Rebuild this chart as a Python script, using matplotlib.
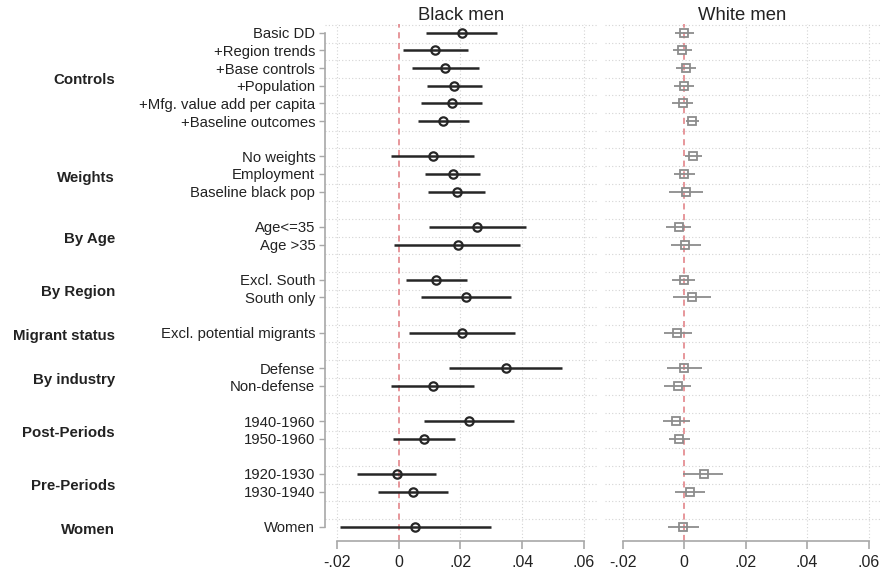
import matplotlib

matplotlib.use("Agg")
import matplotlib.pyplot as plt
import matplotlib.transforms as mtransforms

plt.rcParams.update({
    "font.family": ["Liberation Sans", "DejaVu Sans"],
    "font.size": 10,
})

# ---- data ----
groups = ["Controls", "Weights", "By Age", "By Region", "Migrant status",
          "By industry", "Post-Periods", "Pre-Periods", "Women"]
group_sizes = [6, 3, 2, 2, 1, 2, 2, 2, 1]

row_labels = [
    "Basic DD", "+Region trends", "+Base controls", "+Population",
    "+Mfg. value add per capita", "+Baseline outcomes",
    "No weights", "Employment", "Baseline black pop",
    "Age<=35", "Age >35",
    "Excl. South", "South only",
    "Excl. potential migrants",
    "Defense", "Non-defense",
    "1940-1960", "1950-1960",
    "1920-1930", "1930-1940",
    "Women",
]

black_est = [0.0204, 0.0119, 0.0150, 0.0180, 0.0172, 0.0145,
             0.0110, 0.0175, 0.0188,
             0.0255, 0.0191,
             0.0122, 0.0217,
             0.0205,
             0.0346, 0.0110,
             0.0228, 0.0083,
             -0.0006, 0.0048,
             0.0053]
black_lo = [0.0090, 0.0015, 0.0042, 0.0092, 0.0073, 0.0064,
            -0.0024, 0.0086, 0.0095,
            0.0098, -0.0015,
            0.0024, 0.0071,
            0.0033,
            0.0163, -0.0024,
            0.0081, -0.0019,
            -0.0135, -0.0067,
            -0.0191]
black_hi = [0.0318, 0.0226, 0.0261, 0.0271, 0.0269, 0.0227,
            0.0244, 0.0264, 0.0278,
            0.0411, 0.0394,
            0.0220, 0.0363,
            0.0376,
            0.0530, 0.0244,
            0.0374, 0.0184,
            0.0121, 0.0161,
            0.0299]

white_est = [0.0001, -0.0006, 0.0005, 0.0000, -0.0003, 0.0026,
             0.0030, 0.0001, 0.0006,
             -0.0017, 0.0004,
             -0.0001, 0.0027,
             -0.0022,
             0.0001, -0.0020,
             -0.0026, -0.0015,
             0.0064, 0.0018,
             -0.0002]
white_lo = [-0.0028, -0.0037, -0.0026, -0.0032, -0.0039, 0.0006,
            0.0003, -0.0032, -0.0048,
            -0.0058, -0.0044,
            -0.0039, -0.0035,
            -0.0065,
            -0.0056, -0.0065,
            -0.0070, -0.0050,
            -0.0002, -0.0028,
            -0.0052]
white_hi = [0.0033, 0.0027, 0.0038, 0.0033, 0.0029, 0.0048,
            0.0057, 0.0036, 0.0061,
            0.0022, 0.0054,
            0.0035, 0.0089,
            0.0025,
            0.0059, 0.0022,
            0.0020, 0.0018,
            0.0127, 0.0068,
            0.0049]

x_ticks = [-0.02, 0, 0.02, 0.04, 0.06]
x_ticklabels = ["-.02", "0", ".02", ".04", ".06"]

# row positions: one blank row between groups
pos, group_pos = [], []
y = 0
for n in group_sizes:
    rows = list(range(y, y + n))
    pos += rows
    group_pos.append(sum(rows) / n)
    y += n + 1
last_row = pos[-1]

W, H = 880, 571
fig = plt.figure(figsize=(W / 100, H / 100), dpi=100)
fig.patch.set_facecolor("white")

ax_b = fig.add_axes([325 / W, 1 - 541 / H, (598 - 325) / W, (541 - 24) / H])
ax_w = fig.add_axes([605 / W, 1 - 541 / H, (880 - 605) / W, (541 - 24) / H])

spine_col = "#a8a8a8"
grid_col = "#d4d4d4"


def style(ax, xlim, title):
    ax.set_xlim(*xlim)
    ax.set_ylim(last_row + 0.8, -0.5)
    for hy in [r + 0.55 for r in range(-1, last_row)]:
        ax.axhline(hy, color=grid_col, lw=0.8, ls=(0, (1, 2)), zorder=0)
    for t in x_ticks:
        if t != 0:
            ax.axvline(t, color=grid_col, lw=0.8, ls=(0, (1, 2)), zorder=0)
    ax.axvline(0, color="#e07a80", lw=1.1, ls=(0, (4, 3)), zorder=1)
    for s in ["top", "right"]:
        ax.spines[s].set_visible(False)
    ax.spines["bottom"].set_bounds(-0.02, 0.06)
    ax.spines["bottom"].set_color(spine_col)
    ax.spines["bottom"].set_linewidth(1.2)
    ax.set_xticks(x_ticks)
    ax.set_xticklabels(x_ticklabels, fontsize=11.5, color="#222222")
    ax.tick_params(axis="x", length=6, width=1.2, color=spine_col, pad=4)
    ax.set_title(title, fontsize=13.3, color="#222222", pad=2)
    ax.set_facecolor("white")


style(ax_b, (-0.0238, 0.0645), "Black men")
style(ax_w, (-0.0257, 0.0637), "White men")

# black men panel
ax_b.hlines(pos, black_lo, black_hi, color="#262626", lw=1.8, zorder=3)
ax_b.plot(black_est, pos, "o", ms=6, mfc="none", mec="#262626", mew=1.6, zorder=4)

# white men panel
ax_w.hlines(pos, white_lo, white_hi, color="#8c8c8c", lw=1.3, zorder=3)
ax_w.plot(white_est, pos, "s", ms=5.5, mfc="none", mec="#8c8c8c", mew=1.3, zorder=4)

# y axis (left panel only)
ax_b.spines["left"].set_bounds(0, last_row)
ax_b.spines["left"].set_color(spine_col)
ax_b.spines["left"].set_linewidth(1.2)
ax_b.set_yticks(pos)
ax_b.set_yticklabels(row_labels, fontsize=10.7, color="#222222")
ax_b.tick_params(axis="y", length=4, width=1, color=spine_col, pad=3)

ax_w.spines["left"].set_visible(False)
ax_w.set_yticks([])

trans = mtransforms.blended_transform_factory(fig.transFigure, ax_b.transData)
for g, gy in zip(groups, group_pos):
    fig.text(115 / W, gy + 0.2, g, transform=trans, ha="right", va="center",
             fontsize=10.8, fontweight="bold", color="#222222")

fig.savefig("out.png", dpi=100, facecolor="white")
